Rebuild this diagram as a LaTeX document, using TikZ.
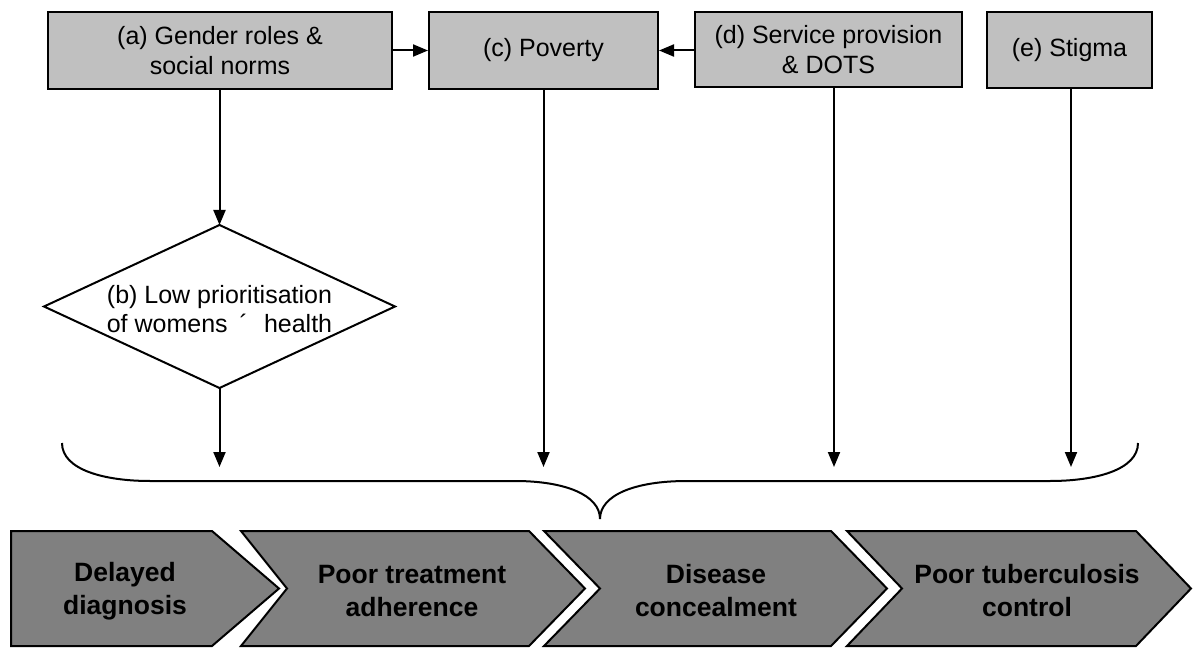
\documentclass[tikz,border=0pt]{standalone}
\usepackage{fontspec}
\setmainfont{Liberation Sans}
\usetikzlibrary{arrows.meta}
\definecolor{boxgray}{HTML}{C0C0C0}
\definecolor{chevgray}{HTML}{808080}
\tikzset{
  factor/.style={draw=black, line width=2pt, fill=boxgray, inner sep=0pt, align=center, font=\fontsize{25}{29.5}\selectfont},
  diamondtext/.style={inner sep=0pt, align=center, font=\fontsize{25}{29}\selectfont},
  chevron/.style={draw=black, line width=2pt, fill=chevgray},
  outcome/.style={align=center, inner sep=0pt, font=\fontsize{26.5}{33}\selectfont\bfseries},
  arr/.style={line width=2pt, -{Triangle[length=15pt,width=12pt]}},
  bracestyle/.style={line width=2pt},
}
\begin{document}
\begin{tikzpicture}[x=1pt,y=-1pt]
\useasboundingbox (0,0) rectangle (1200,663);

% factor boxes
\node[factor, minimum width=344pt, minimum height=77pt] (a) at (220,50.5) {(a) Gender roles \&\\social norms};
\node[factor, minimum width=229pt, minimum height=77pt] (c) at (543.5,50.5) {(c) Poverty};
\node[factor, minimum width=267pt, minimum height=75pt] (d) at (828.5,49.5) {(d) Service provision\\\& DOTS};
\node[factor, minimum width=165pt, minimum height=76pt] (e) at (1069.5,50) {(e) Stigma};

% diamond
\coordinate (bt) at (219.5,225);
\coordinate (bb) at (219.5,388);
\coordinate (bl) at (44,306.5);
\coordinate (br) at (395,306.5);
\draw[line width=2pt, fill=white] (bt) -- (br) -- (bb) -- (bl) -- cycle;
\node[diamondtext] (b) at (219.5,309) {(b) Low prioritisation\\of womens\hspace{12pt}´\hspace{16pt}health};

% arrow tips above brace
\coordinate (tipb) at (219.5,467);
\coordinate (tipc) at (543.5,467);
\coordinate (tipd) at (834,467);
\coordinate (tipe) at (1071,467);

% connectors
\draw[arr] (a.east) -- (c.west);
\draw[arr] (d.west |- c.east) -- (c.east);
\draw[arr] (a.south -| bt) -- (bt);
\draw[arr] (bb) -- (tipb);
\draw[arr] (c.south) -- (tipc);
\draw[arr] (d.south -| tipd) -- (tipd);
\draw[arr] (e.south -| tipe) -- (tipe);

% brace
\coordinate (brL) at (62,443);
\coordinate (brR) at (1138,443);
\coordinate (brM) at (600,519);
\draw[bracestyle] (brL) .. controls (62,470) and (105,481) .. (150,481) -- (515,481)
  .. controls (565,481) and (600,495) .. (brM)
  .. controls (600,495) and (635,481) .. (687,481) -- (1050,481)
  .. controls (1095,481) and (1138,470) .. (brR);

% chevrons
\draw[chevron] (11,531) -- (212,531) -- (279,588.5) -- (212,646) -- (11,646) -- cycle;
\draw[chevron] (241,531) -- (529,531) -- (585,588.5) -- (529,646) -- (241,646) -- (287,588.5) -- cycle;
\draw[chevron] (544,531) -- (831,531) -- (887,588.5) -- (831,646) -- (544,646) -- (600,588.5) -- cycle;
\draw[chevron] (847,531) -- (1136,531) -- (1191,588.5) -- (1136,646) -- (847,646) -- (902,588.5) -- cycle;

\node[outcome] (o1) at (125,591) {Delayed\\diagnosis};
\node[outcome] (o2) at (412,591) {Poor treatment\\adherence};
\node[outcome] (o3) at (716,591) {Disease\\concealment};
\node[outcome] (o4) at (1027,591) {Poor tuberculosis\\control};
\end{tikzpicture}
\end{document}
